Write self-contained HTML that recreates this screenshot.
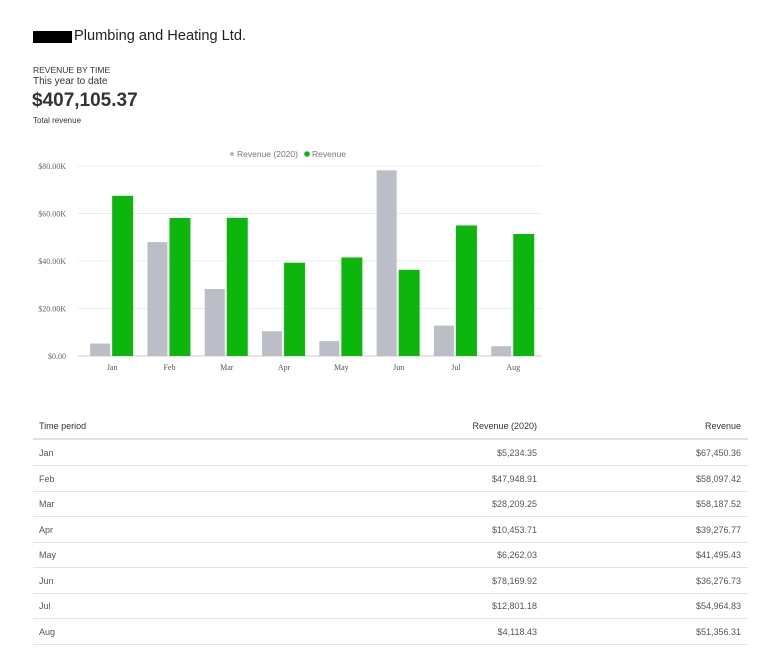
<!DOCTYPE html>
<html><head><meta charset="utf-8"><style>
body{margin:0;width:760px;height:656px;background:#fff;font-family:"Liberation Sans",sans-serif;color:#333;position:relative;overflow:hidden}
.a{position:absolute;white-space:nowrap}
.row{position:absolute;left:33px;width:715px;height:25px;border-bottom:1px solid #e3e3e3;font-size:9px;color:#555}
.row span{position:absolute;top:8px}
</style></head><body>
<div class="a" style="left:33px;top:31px;width:39px;height:12px;background:#000"></div>
<div class="a" style="left:74px;top:28px;font-size:14.6px;color:#222">Plumbing and Heating Ltd.</div>
<div class="a" style="left:33px;top:65px;font-size:8.5px">REVENUE BY TIME</div>
<div class="a" style="left:33px;top:76px;font-size:10px">This year to date</div>
<div class="a" style="left:32px;top:90px;font-size:19px;font-weight:bold;color:#333">$407,105.37</div>
<div class="a" style="left:33px;top:116px;font-size:8px">Total revenue</div>
<svg class="a" style="left:0;top:140px" width="760" height="240">
<g id="g"></g>
</svg>
<div id="tbl"></div>
<script>
const months=["Jan","Feb","Mar","Apr","May","Jun","Jul","Aug"];
const rev2020=[5234.35,47948.91,28209.25,10453.71,6262.03,78169.92,12801.18,4118.43];
const rev=[67450.36,58097.42,58187.52,39276.77,41495.43,36276.73,54964.83,51356.31];
const ticks=[0,20000,40000,60000,80000];
const tickLabels=["$0.00","$20.00K","$40.00K","$60.00K","$80.00K"];
const ns="http://www.w3.org/2000/svg";
const g=document.getElementById('g');
const y0=216, k=190/80000, x0=83.5, gw=57.3;
const y=v=>y0-v*k, xc=i=>x0+gw*(i+0.5);
function el(t,a,txt){const e=document.createElementNS(ns,t);for(const n in a)e.setAttribute(n,a[n]);if(txt!=null)e.textContent=txt;g.appendChild(e);return e;}
ticks.forEach((t,i)=>{
 const l=el('line',{x1:78,x2:542,y1:y(t),y2:y(t),stroke:i?'#ececec':'#ccc','stroke-width':1});
 
 
 const tx=el('text',{x:66,y:y(t)+3,'text-anchor':'end','font-size':8,fill:'#666','font-family':'Liberation Serif,serif'},tickLabels[i]);
 
 
});
months.forEach((m,i)=>{
 const c=xc(i);
 const b1=el('rect',{x:c-22,y:y(rev2020[i]),width:20,height:rev2020[i]*k,fill:'#bbbec6'});
 
 
 const b2=el('rect',{x:c,y:y(rev[i]),width:21,height:rev[i]*k,fill:'#0cb60c'});
 
 
 const tx=el('text',{x:c,y:230,'text-anchor':'middle','font-size':8,fill:'#555','font-family':'Liberation Serif,serif'},m);
 
 
});
const lg=[[232,'#bbb','Revenue (2020)'],[307,'#0cb60c','Revenue']];
lg.forEach(d=>{
 const c=el('circle',{cx:d[0],cy:14,r:d[1]=='#bbb'?2:2.8,fill:d[1]});
 
 
 const t=el('text',{x:d[0]+5,y:17,'font-size':8.5,fill:'#777'},d[2]);
 
 
});
const fmt=v=>'$'+v.toLocaleString('en-US',{minimumFractionDigits:2,maximumFractionDigits:2});
const tbl=document.getElementById('tbl');
function row(top,a,b,c,name,hdr){
 const r=document.createElement('div');r.className='row';r.style.top=top+'px';
 if(hdr){r.style.borderBottom='2px solid #e0e0e0';r.style.color='#333';}
 
 
 r.innerHTML='<span style="left:6px">'+a+'</span><span style="right:211px">'+b+'</span><span style="right:7px">'+c+'</span>';
 tbl.appendChild(r);
}
row(413,'Time period','Revenue (2020)','Revenue','table-header',true);
months.forEach((m,i)=>row(440+i*25.5,m,fmt(rev2020[i]),fmt(rev[i]),'table-row-'+m.toLowerCase()));
</script>
</body></html>
